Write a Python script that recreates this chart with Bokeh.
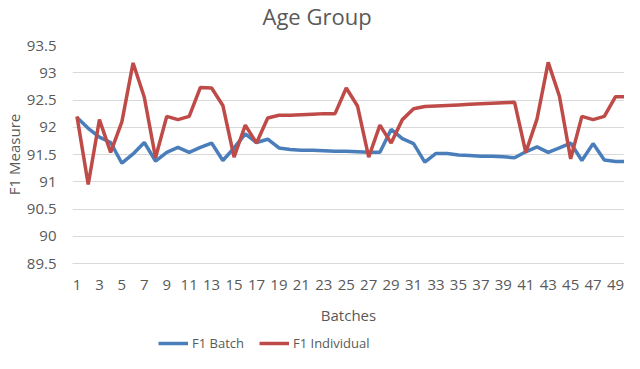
from bokeh.plotting import figure
from bokeh.layouts import column
from bokeh.models import CustomJSTickFormatter, Legend, LegendItem
from bokeh.embed import file_html
from bokeh.resources import INLINE

batches = list(range(1, 51))
f1_batch = [92.18, 91.98, 91.82, 91.72, 91.34, 91.51, 91.72, 91.38, 91.54, 91.63,
            91.54, 91.63, 91.71, 91.39, 91.62, 91.88, 91.72, 91.78, 91.62, 91.59,
            91.58, 91.58, 91.57, 91.56, 91.56, 91.55, 91.54, 91.54, 91.96, 91.79,
            91.70, 91.36, 91.52, 91.52, 91.49, 91.48, 91.47, 91.47, 91.46, 91.44,
            91.55, 91.64, 91.54, 91.62, 91.71, 91.39, 91.70, 91.40, 91.37, 91.37]
f1_individual = [92.20, 90.95, 92.14, 91.54, 92.10, 93.18, 92.55, 91.44, 92.20, 92.14,
                 92.20, 92.73, 92.72, 92.40, 91.45, 92.04, 91.71, 92.17, 92.22, 92.22,
                 92.23, 92.24, 92.25, 92.25, 92.72, 92.39, 91.45, 92.04, 91.71, 92.14,
                 92.34, 92.38, 92.39, 92.40, 92.41, 92.42, 92.43, 92.44, 92.45, 92.46,
                 91.54, 92.15, 93.19, 92.57, 91.42, 92.20, 92.14, 92.20, 92.56, 92.56]
series_names = ["F1 Batch", "F1 Individual"]
x_ticks = list(range(1, 50, 2))
y_ticks = [89.5, 90, 90.5, 91, 91.5, 92, 92.5, 93, 93.5]
chart_title = "Age Group"

FONT = "Open Sans"
GREY = "#595959"
BLUE = "#4a7ebb"
RED = "#be4b48"

# title strip: a figure whose title sits at the very top of the page
tt = figure(width=624, height=34, output_backend="svg", toolbar_location=None,
            min_border=0, x_range=(0, 1), y_range=(0, 1))
tt.axis.visible = False
tt.grid.visible = False
tt.outline_line_color = None
tt.title.text = chart_title
tt.title.align = "left"
tt.title.offset = 190
tt.title.standoff = 0
tt.title.vertical_align = "top"
tt.title.text_font = FONT
tt.title.text_font_size = "22px"
tt.title.text_font_style = "normal"
tt.title.text_color = GREY

p = figure(width=624, height=299, output_backend="svg", toolbar_location=None,
           x_range=(0.6, 49.8), y_range=(89.5, 93.5),
           min_border_left=64, min_border_right=0, min_border_top=11,
           min_border_bottom=70)
p.outline_line_color = None

p.xgrid.visible = False
p.ygrid.ticker = y_ticks
p.ygrid.grid_line_color = "#d9d9d9"

ya = p.yaxis[0]
ya.ticker = y_ticks
ya.formatter = CustomJSTickFormatter(code="return tick.toString()")
ya.axis_line_color = None
ya.major_tick_line_color = None
ya.minor_tick_line_color = None
ya.major_tick_out = 0
ya.major_tick_in = 0
ya.minor_tick_out = 0
ya.major_label_standoff = 16
ya.major_label_text_font = FONT
ya.major_label_text_font_size = "15px"
ya.major_label_text_color = GREY
ya.axis_label = "F1 Measure"
ya.axis_label_text_font = FONT
ya.axis_label_text_font_size = "15px"
ya.axis_label_text_font_style = "normal"
ya.axis_label_text_color = GREY
ya.axis_label_standoff = 0

xa = p.xaxis[0]
xa.ticker = x_ticks
xa.axis_line_color = "#d9d9d9"
xa.major_tick_line_color = None
xa.minor_tick_line_color = None
xa.major_tick_out = 0
xa.major_tick_in = 0
xa.minor_tick_out = 0
xa.major_label_standoff = 16
xa.major_label_text_font = FONT
xa.major_label_text_font_size = "15px"
xa.major_label_text_color = GREY
xa.axis_label = "Batches"
xa.axis_label_text_font = FONT
xa.axis_label_text_font_size = "15px"
xa.axis_label_text_font_style = "normal"
xa.axis_label_text_color = GREY
xa.axis_label_standoff = 12

p.line(batches, f1_batch, line_color=BLUE, line_width=3.5)
p.line(batches, f1_individual, line_color=RED, line_width=3.5)

# legend strip below the chart (its lines lie outside its ranges, only the keys show)
lg = figure(width=624, height=20, output_backend="svg", toolbar_location=None,
            min_border=0, x_range=(-2, -1), y_range=(0, 1))
lg.axis.visible = False
lg.grid.visible = False
lg.outline_line_color = None
k1 = lg.line(batches, f1_batch, line_color=BLUE, line_width=3.5)
k2 = lg.line(batches, f1_individual, line_color=RED, line_width=3.5)
legend = Legend(items=[LegendItem(label=series_names[0], renderers=[k1]),
                       LegendItem(label=series_names[1], renderers=[k2])],
                location=(86, 0), orientation="horizontal", padding=0, margin=0,
                spacing=15, label_standoff=4, glyph_width=30, glyph_height=20,
                label_text_font=FONT, label_text_font_size="13px",
                label_text_color=GREY, border_line_color=None,
                background_fill_alpha=0)
lg.add_layout(legend, "center")

layout = column(tt, p, lg, spacing=0)
open("out.html", "w").write(file_html(layout, INLINE))
